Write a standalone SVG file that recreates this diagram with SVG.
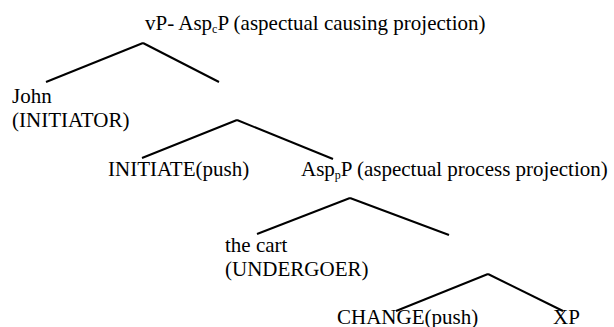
<svg xmlns="http://www.w3.org/2000/svg" width="614" height="327" viewBox="0 0 614 327">
<style>
text{font-family:"Liberation Serif","Times New Roman",serif;font-size:21px;fill:#000}
.sub{font-size:12px}
#connectors line{stroke:#000;stroke-width:2;stroke-linecap:butt}
</style>
<rect width="614" height="327" fill="#fff"/>
<g id="connectors">
<line x1="143" y1="43" x2="46" y2="82"/><line x1="143" y1="43" x2="219" y2="82"/>
<line x1="237" y1="120" x2="142" y2="158"/><line x1="237" y1="120" x2="333" y2="159"/>
<line x1="350" y1="198" x2="257" y2="234"/><line x1="350" y1="198" x2="449" y2="235"/>
<line x1="488" y1="274" x2="396" y2="311"/><line x1="488" y1="274" x2="563" y2="311"/>
</g>
<g id="vP"><text x="145" y="30">vP- Asp<tspan class="sub" dy="3">c</tspan><tspan dy="-3">P (aspectual causing projection)</tspan></text></g>
<g id="john"><text x="12" y="103">John</text><text x="12" y="127">(INITIATOR)</text></g>
<g id="initiate"><text x="108" y="176">INITIATE(push)</text></g>
<g id="aspP"><text x="301" y="176">Asp<tspan class="sub" dy="3">p</tspan><tspan dy="-3">P (aspectual process projection)</tspan></text></g>
<g id="cart"><text x="225" y="252">the cart</text><text x="225" y="276">(UNDERGOER)</text></g>
<g id="change"><text x="337" y="324">CHANGE(push)</text></g>
<g id="xp"><text x="553" y="324">XP</text></g>
</svg>
